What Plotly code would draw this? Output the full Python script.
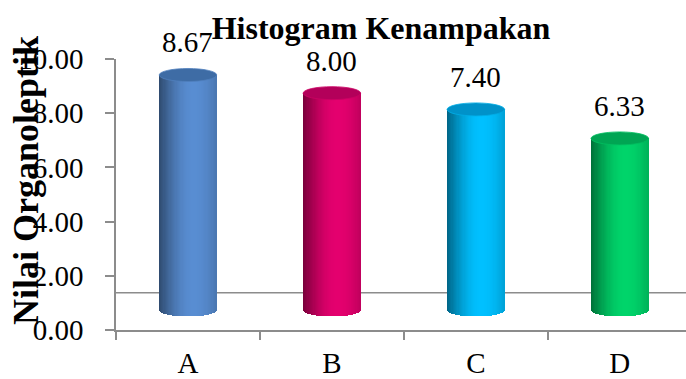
import math
import plotly.graph_objects as go

# Scores per sample
categories = ["A", "B", "C", "D"]
values = [8.67, 8.00, 7.40, 6.33]
value_labels = ["8.67", "8.00", "7.40", "6.33"]
y_tick_values = [0, 2, 4, 6, 8, 10]
y_tick_labels = ["0.00", "2.00", "4.00", "6.00", "8.00", "10.00"]

# Cylinder colours (lit side) and top-face colours
body_colors = [(88, 141, 210), (228, 0, 110), (0, 192, 255), (0, 212, 106)]
top_colors = ["#3E6CA5", "#B3005A", "#0092C9", "#00A553"]

FONT = "Liberation Serif"
AXIS_GREY = "#8C8C8C"

# 3D-style geometry in axis units
BASE = 0.74          # floor level where cylinders stand
FLOOR_BACK = 1.37    # back edge of the floor
HALF_W = 0.2         # half of the cylinder width (category units)
ELL_H = 0.24         # half height of the elliptical caps (value units)
N_STRIPS = 48


def shade(t):
    """Brightness across the cylinder: dark left, highlight near 60%."""
    if t <= 0.6:
        return 0.52 + 0.48 * math.sin(math.pi * t / 1.2)
    return 1.0 - 0.16 * ((t - 0.6) / 0.4) ** 2


def rgb(c, f):
    return "rgb(%d,%d,%d)" % tuple(max(0, min(255, round(v * f))) for v in c)


fig = go.Figure()

strip_w = 2 * HALF_W / N_STRIPS
for k in range(N_STRIPS):
    t = (k + 0.5) / N_STRIPS
    u = 2 * t - 1
    drop = ELL_H * math.sqrt(max(0.0, 1 - u * u))
    bottoms = [BASE - drop for _ in values]
    heights = [BASE + v - b for v, b in zip(values, bottoms)]
    fig.add_trace(go.Bar(
        x=categories,
        y=heights,
        base=bottoms,
        width=strip_w * 1.35,
        offset=-HALF_W + k * strip_w,
        marker=dict(color=[rgb(c, shade(t)) for c in body_colors], line=dict(width=0)),
        hoverinfo="skip",
        showlegend=False,
    ))

# Elliptical top faces and value labels
for i, (v, lab) in enumerate(zip(values, value_labels)):
    top = BASE + v
    fig.add_shape(type="circle", xref="x", yref="y",
                  x0=i - HALF_W, x1=i + HALF_W, y0=top - ELL_H, y1=top + ELL_H,
                  fillcolor=top_colors[i], line=dict(width=0.8, color=rgb(body_colors[i], 0.9)),
                  layer="above")
    fig.add_annotation(x=i, y=top + ELL_H, xref="x", yref="y", text=lab,
                       showarrow=False, yanchor="middle", yshift=26,
                       font=dict(family=FONT, size=29, color="black"))

# Back edge of the floor
fig.add_shape(type="line", xref="paper", yref="y", x0=0, x1=1,
              y0=FLOOR_BACK, y1=FLOOR_BACK, line=dict(color=AXIS_GREY, width=1.5),
              layer="below")

# Y-axis title
fig.add_annotation(xref="paper", yref="paper", x=-0.158, y=0.553,
                   text="<b>Nilai Organoleptik</b>", textangle=-90, showarrow=False,
                   xanchor="center", yanchor="middle",
                   font=dict(family=FONT, size=36, color="black"))

fig.update_layout(
    width=686, height=379,
    margin=dict(l=116, r=0, t=59, b=49),
    paper_bgcolor="white", plot_bgcolor="white",
    barmode="overlay", bargap=0,
    title=dict(text="<b>Histogram Kenampakan</b>", x=381 / 686, xref="container",
               y=1 - 28 / 379, yref="container", xanchor="center", yanchor="middle",
               font=dict(family=FONT, size=32, color="black")),
    xaxis=dict(range=[-0.5, 3.46], type="category", showline=True, linecolor=AXIS_GREY,
               linewidth=1.5, ticks="outside", tickson="boundaries", ticklen=8,
               tickcolor=AXIS_GREY, tickwidth=1.5, showgrid=False, zeroline=False,
               ticklabelstandoff=6, automargin=False,
               tickfont=dict(family=FONT, size=29, color="black")),
    yaxis=dict(range=[0, 10], tickvals=y_tick_values, ticktext=y_tick_labels,
               showline=True, linecolor=AXIS_GREY, linewidth=1.5, ticks="outside",
               ticklen=9, tickcolor=AXIS_GREY, tickwidth=1.5, showgrid=False,
               zeroline=False, ticklabelstandoff=16, automargin=False,
               tickfont=dict(family=FONT, size=29, color="black")),
)

fig.write_html("out.html")
